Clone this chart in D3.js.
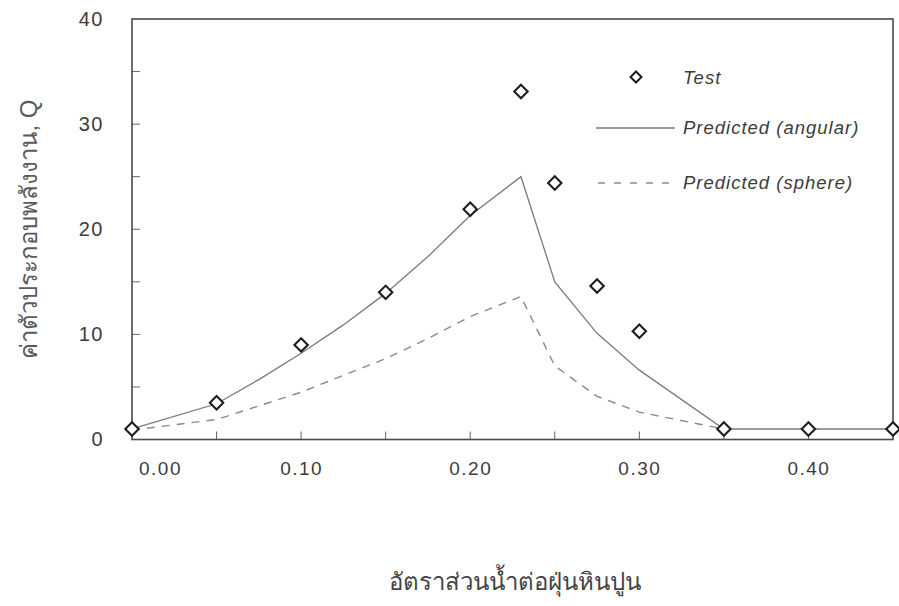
<!DOCTYPE html>
<html>
<head>
<meta charset="utf-8">
<script src="https://cdn.jsdelivr.net/npm/d3@7"></script>
<style>
  html, body { margin: 0; padding: 0; background: #fff; }
  svg text { font-family: "Liberation Sans", Arial, sans-serif; }
</style>
</head>
<body>
<svg id="chart" width="899" height="606"></svg>
<script>
// Test results: water / limestone-dust ratio vs energy factor Q
const testX = [0.00, 0.05, 0.10, 0.15, 0.20, 0.23, 0.25, 0.275, 0.30, 0.35, 0.40, 0.45];
const testQ = [1.0, 3.5, 9.0, 14.0, 21.9, 33.1, 24.4, 14.6, 10.3, 1.0, 1.0, 1.0];

// Predicted curve, angular particles
const angularX = [0.00, 0.05, 0.075, 0.10, 0.125, 0.15, 0.175, 0.20, 0.23, 0.25, 0.275, 0.30, 0.35, 0.40, 0.45];
const angularQ = [1.0, 3.4, 5.7, 8.2, 10.9, 13.9, 17.4, 21.3, 25.0, 15.0, 10.1, 6.6, 1.0, 1.0, 1.0];

// Predicted curve, spherical particles
const sphereX = [0.00, 0.05, 0.10, 0.15, 0.175, 0.20, 0.23, 0.25, 0.275, 0.30, 0.35];
const sphereQ = [0.9, 1.9, 4.5, 7.7, 9.6, 11.7, 13.6, 7.0, 4.1, 2.6, 1.0];

const xTickValues = [0.00, 0.05, 0.10, 0.15, 0.20, 0.25, 0.30, 0.35, 0.40, 0.45];
const xTickLabels = ["0.00", "", "0.10", "", "0.20", "", "0.30", "", "0.40", ""];
const yTickValues = [0, 5, 10, 15, 20, 25, 30, 35, 40];
const yTickLabels = ["0", "", "10", "", "20", "", "30", "", "40"];

const legendLabels = ["Test", "Predicted (angular)", "Predicted (sphere)"];
const xTitle = "อัตราส่วนน้ำต่อฝุ่นหินปูน";
const yTitle = "ค่าตัวประกอบพลังงาน, Q";

const svg = d3.select("#chart");
const plotLeft = 132, plotRight = 893, plotTop = 19, plotBottom = 439.5;

const x = d3.scaleLinear().domain([0, 0.45]).range([plotLeft, plotRight]);
const y = d3.scaleLinear().domain([0, 40]).range([plotBottom, plotTop]);

const frameColor = "#4a4a4a";
const textColor = "#3c3c3c";
const tickLen = 8;

// Bottom axis labels (tick marks are drawn separately, pointing inward)
const xAxis = d3.axisBottom(x)
  .tickValues(xTickValues)
  .tickSize(0)
  .tickFormat((d, i) => xTickLabels[i]);
const gx = svg.append("g").attr("transform", `translate(0,${plotBottom})`).call(xAxis);
gx.select(".domain").remove();
gx.selectAll(".tick line").remove();
gx.selectAll(".tick text")
  .attr("y", 22)
  .attr("dx", (d, i) => i === 0 ? 28 : 0)
  .attr("fill", textColor)
  .style("font-size", "19px")
  .style("letter-spacing", "1.5px");

// Left axis labels
const yAxis = d3.axisLeft(y)
  .tickValues(yTickValues)
  .tickSize(0)
  .tickFormat((d, i) => yTickLabels[i]);
const gy = svg.append("g").attr("transform", `translate(${plotLeft},0)`).call(yAxis);
gy.select(".domain").remove();
gy.selectAll(".tick line").remove();
gy.selectAll(".tick text")
  .attr("x", -28)
  .attr("fill", textColor)
  .style("font-size", "20px")
  .style("letter-spacing", "1.5px");

// Inward tick marks
svg.append("g").selectAll("line")
  .data(xTickValues.slice(1, -1))
  .join("line")
  .attr("x1", d => x(d)).attr("x2", d => x(d))
  .attr("y1", plotBottom).attr("y2", plotBottom - tickLen)
  .attr("stroke", "#666").attr("stroke-width", 1);
svg.append("g").selectAll("line")
  .data(yTickValues.slice(1, -1))
  .join("line")
  .attr("x1", plotLeft).attr("x2", plotLeft + tickLen)
  .attr("y1", d => y(d)).attr("y2", d => y(d))
  .attr("stroke", "#666").attr("stroke-width", 1);

// Frame around the plot area
svg.append("rect")
  .attr("x", plotLeft).attr("y", plotTop)
  .attr("width", plotRight - plotLeft).attr("height", plotBottom - plotTop)
  .attr("fill", "none")
  .attr("stroke", frameColor)
  .attr("stroke-width", 1.6);

const line = d3.line().x(d => x(d[0])).y(d => y(d[1]));

// Spherical prediction (dashed)
svg.append("path")
  .datum(sphereX.map((v, i) => [v, sphereQ[i]]))
  .attr("d", line)
  .attr("fill", "none")
  .attr("stroke", "#8a8a8a")
  .attr("stroke-width", 1.4)
  .attr("stroke-dasharray", "8,7");

// Angular prediction (solid)
svg.append("path")
  .datum(angularX.map((v, i) => [v, angularQ[i]]))
  .attr("d", line)
  .attr("fill", "none")
  .attr("stroke", "#7a7a7a")
  .attr("stroke-width", 1.3);

// Test points as open diamonds
const diamond = s => `M0,${-s}L${s},0L0,${s}L${-s},0Z`;
svg.append("g").selectAll("path")
  .data(testX.map((v, i) => [v, testQ[i]]))
  .join("path")
  .attr("transform", d => `translate(${x(d[0])},${y(d[1])})`)
  .attr("d", diamond(6.7))
  .attr("fill", "#fff")
  .attr("stroke", "#1e1e1e")
  .attr("stroke-width", 2.1);

// Legend
const lg = svg.append("g");
lg.append("path")
  .attr("transform", "translate(636,77)")
  .attr("d", diamond(5.5))
  .attr("fill", "#fff")
  .attr("stroke", "#1e1e1e")
  .attr("stroke-width", 2);
lg.append("line")
  .attr("x1", 596).attr("x2", 675).attr("y1", 128).attr("y2", 128)
  .attr("stroke", "#7a7a7a").attr("stroke-width", 1.3);
lg.append("line")
  .attr("x1", 598).attr("x2", 675).attr("y1", 183).attr("y2", 183)
  .attr("stroke", "#8a8a8a").attr("stroke-width", 1.4)
  .attr("stroke-dasharray", "7,9");
lg.selectAll("text")
  .data(legendLabels)
  .join("text")
  .attr("x", 683)
  .attr("y", (d, i) => [78, 128, 183][i])
  .attr("dy", "0.35em")
  .attr("fill", textColor)
  .style("font-size", "18.5px")
  .style("font-style", "italic")
  .style("letter-spacing", "1px")
  .text(d => d);

// Axis titles
svg.append("text")
  .attr("x", 515).attr("y", 590)
  .attr("text-anchor", "middle")
  .attr("fill", "#444")
  .style("font-size", "24px")
  .text(xTitle);

svg.append("text")
  .attr("transform", "translate(37,229) rotate(-90)")
  .attr("text-anchor", "middle")
  .attr("fill", "#5a5a5a")
  .style("font-size", "24px")
  .text(yTitle);
</script>
</body>
</html>
